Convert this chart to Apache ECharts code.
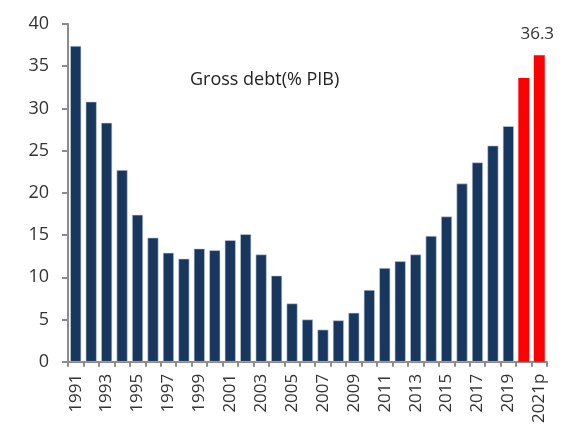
<!DOCTYPE html>
<html>
<head>
<meta charset="utf-8">
<script src="https://cdn.jsdelivr.net/npm/echarts@6/dist/echarts.min.js"></script>
<style>
  html, body { margin: 0; padding: 0; background: #fff; }
  #chart { width: 562px; height: 426px; }
</style>
</head>
<body>
<div id="chart"></div>
<script>
// years on the x axis (last one is a projection)
var years = ['1991','1992','1993','1994','1995','1996','1997','1998','1999','2000',
  '2001','2002','2003','2004','2005','2006','2007','2008','2009','2010',
  '2011','2012','2013','2014','2015','2016','2017','2018','2019','2020','2021p'];
// gross debt, % of GDP
var debt = [37.4, 30.8, 28.3, 22.7, 17.4, 14.7, 12.9, 12.2, 13.4, 13.2,
  14.4, 15.1, 12.7, 10.2, 6.9, 5.0, 3.8, 4.9, 5.8, 8.5,
  11.1, 11.9, 12.7, 14.9, 17.2, 21.1, 23.6, 25.6, 27.9, 33.6, 36.3];
var redFrom = 29; // 2020 and 2021p in red
var yTicks = [0, 5, 10, 15, 20, 25, 30, 35, 40];

var font = 'Open Sans';
var myChart = echarts.init(document.getElementById('chart'));

var barData = debt.map(function (v, i) {
  var item = {
    value: v,
    itemStyle: {
      color: i >= redFrom ? '#ff0000' : '#17375e',
      borderColor: i >= redFrom ? '#ff0000' : '#c9d1dc',
      borderWidth: i >= redFrom ? 0 : 0.6
    }
  };
  if (i === debt.length - 1) {
    item.label = { show: true, position: 'top', distance: 13, formatter: '{c}',
      color: '#333', fontSize: 17, fontFamily: font, offset: [-2, 0] };
  }
  return item;
});

myChart.setOption({
  animation: false,
  grid: { left: 68, right: 15, top: 24, bottom: 64 },
  graphic: [{
    type: 'text', left: 190, top: 71,
    style: { text: 'Gross debt(% PIB)', fill: '#222', fontSize: 18, fontFamily: font }
  }],
  xAxis: {
    type: 'category',
    data: years,
    axisLine: { lineStyle: { color: '#8c8c8c', width: 2 } },
    axisTick: { show: true, interval: 0, length: 5, lineStyle: { color: '#8c8c8c', width: 2 } },
    axisLabel: { interval: 1, rotate: 90, color: '#333', fontSize: 17, fontFamily: font, margin: 12 }
  },
  yAxis: {
    type: 'value',
    min: yTicks[0], max: yTicks[yTicks.length - 1], interval: 5,
    splitLine: { show: false },
    axisLine: { show: true, lineStyle: { color: '#8c8c8c', width: 2 } },
    axisTick: { show: true, length: 6, lineStyle: { color: '#8c8c8c', width: 2 } },
    axisLabel: { color: '#333', fontSize: 18, fontFamily: font, margin: 19 }
  },
  series: [{
    type: 'bar',
    data: barData,
    barWidth: 11
  }]
});
</script>
</body>
</html>
